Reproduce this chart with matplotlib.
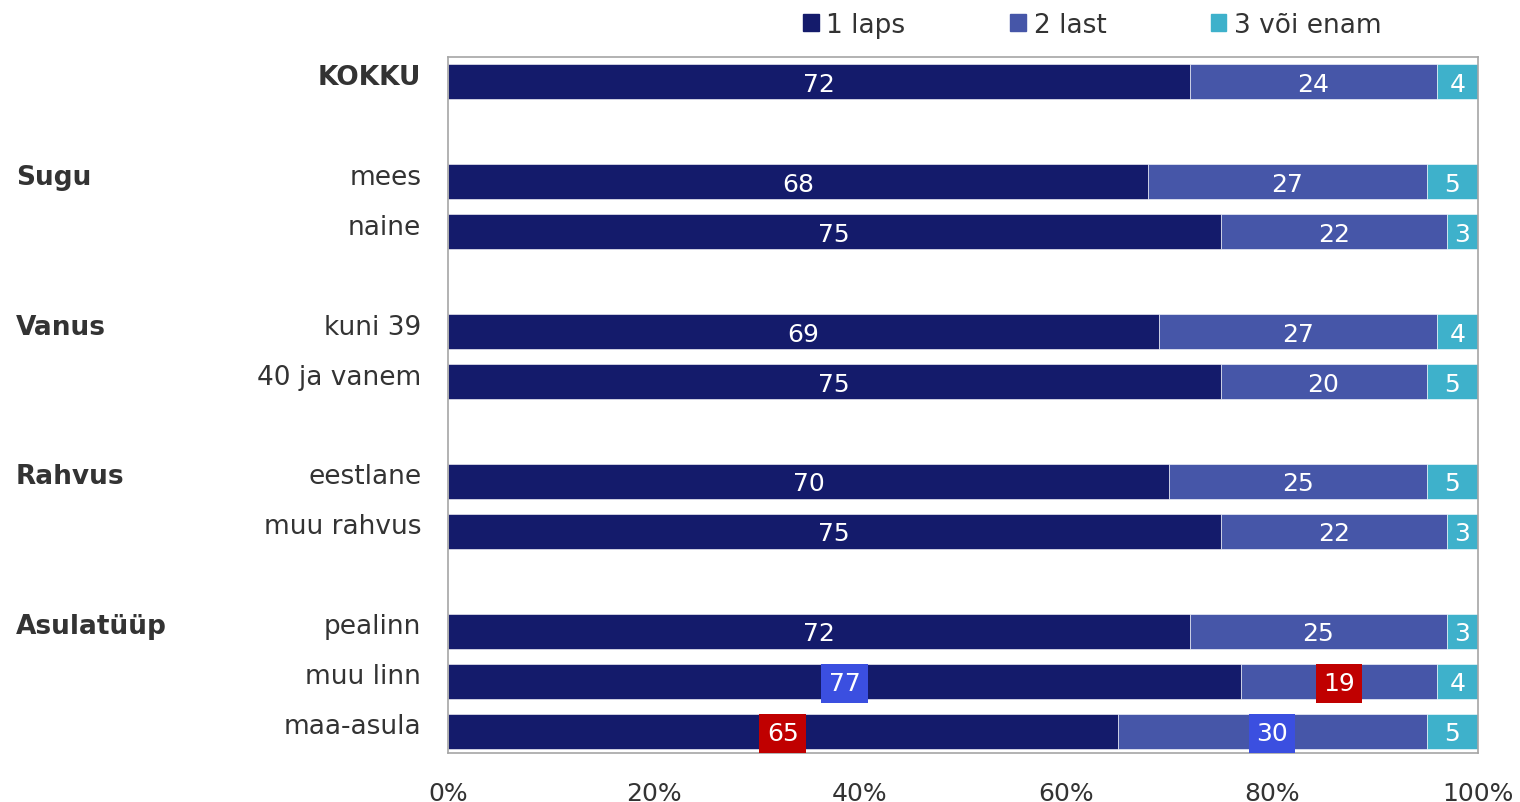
import numpy as np
import matplotlib.pyplot as plt
from matplotlib.patches import Patch

categories = ['KOKKU', 'mees', 'naine', 'kuni 39', '40 ja vanem',
              'eestlane', 'muu rahvus', 'pealinn', 'muu linn', 'maa-asula']
groups = ['', 'Sugu', '', 'Vanus', '', 'Rahvus', '', 'Asulatüüp', '', '']
slots = [0, 2, 3, 5, 6, 8, 9, 11, 12, 13]
one_child = [72, 68, 75, 69, 75, 70, 75, 72, 77, 65]
two_children = [24, 27, 22, 27, 20, 25, 22, 25, 19, 30]
three_plus = [4, 5, 3, 4, 5, 5, 3, 3, 4, 5]
series_names = ['1 laps', '2 last', '3 või enam']
# highlighted cells: (row, series) -> box colour
highlights = {(8, 0): '#3B4FE0', (8, 1): '#C00000',
              (9, 0): '#C00000', (9, 1): '#3B4FE0'}

colors = ['#141B6B', '#4656A8', '#3EB1CB']
txt = '#333333'
plt.rcParams['font.family'] = ['DejaVu Sans']

fig = plt.figure(figsize=(15.2, 8.03), dpi=100)
ax = fig.add_axes([448 / 1520, 1 - 754 / 803, 1030 / 1520, 696 / 803])

y = np.array(slots)
data = [one_child, two_children, three_plus]
left = np.zeros(len(y))
for s, (vals, c) in enumerate(zip(data, colors)):
    vals = np.array(vals, dtype=float)
    ax.barh(y, vals, left=left, height=0.7, color=c, edgecolor='white', linewidth=0.4)
    for i, v in enumerate(vals):
        box = None
        if (i, s) in highlights:
            box = dict(boxstyle='square,pad=0.3', fc=highlights[(i, s)], ec='none')
        ax.text(left[i] + v / 2, y[i] + 0.04, f'{int(v)}', ha='center', va='center',
                color='white', fontsize=18, bbox=box)
    left += vals

ax.set_xlim(0, 100)
ax.set_ylim(13.44, -0.5)
ax.set_xticks(np.arange(0, 101, 20))
ax.set_xticklabels([f'{t}%' for t in range(0, 101, 20)], fontsize=18, color=txt)
ax.tick_params(axis='x', length=0, pad=20)
ax.set_yticks([])
for sp in ax.spines.values():
    sp.set_color('#A6A6A6')
    sp.set_linewidth(1.2)

for i, (cat, g) in enumerate(zip(categories, groups)):
    ypx = y[i] - 0.1
    ax.text(-2.6, ypx, cat, ha='right', va='center', fontsize=19, color=txt,
            fontweight='bold' if cat == 'KOKKU' else 'normal')
    if g:
        ax.annotate(g, xy=(16 / 1520, ypx), xycoords=('figure fraction', 'data'),
                    ha='left', va='center', fontsize=19, fontweight='bold', color=txt)

handles = [Patch(color=c) for c in colors]
fig.legend(handles, series_names, loc='upper left', bbox_to_anchor=(779 / 1520, 1.014),
           ncol=3, frameon=False, fontsize=19, handlelength=0.6, handleheight=0.6,
           handletextpad=0.3, columnspacing=3.95, labelcolor=txt)

fig.savefig('out.png', dpi=100)
